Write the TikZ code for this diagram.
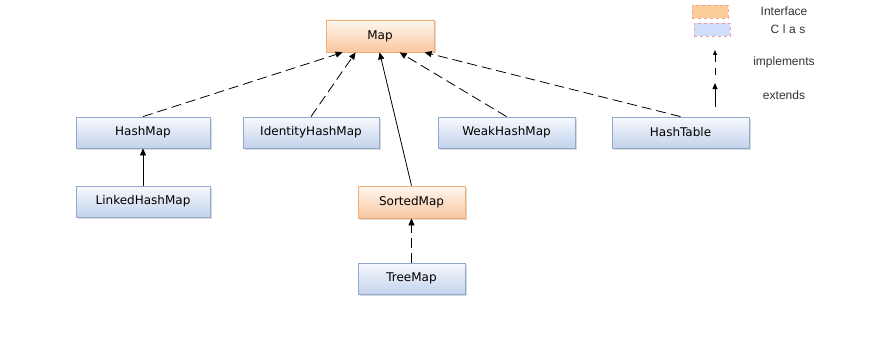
\documentclass[tikz,border=0pt]{standalone}
\usepackage{fontspec}
\setmainfont{DejaVu Sans}
\newfontfamily\legendfont{Liberation Sans}
\newfontfamily\spacedfont[LetterSpace=30]{Liberation Sans}
\usetikzlibrary{arrows.meta,shadows,calc}

\definecolor{ifaceborder}{HTML}{F5AE72}
\definecolor{ifacetop}{HTML}{FEF6EF}
\definecolor{ifacebottom}{HTML}{F9C7A0}
\definecolor{classborder}{HTML}{93A9CB}
\definecolor{classtop}{HTML}{F7F9FD}
\definecolor{classbottom}{HTML}{C3D3EC}
\definecolor{legendtext}{HTML}{333333}
\definecolor{legendiface}{HTML}{FBCC97}
\definecolor{legendclass}{HTML}{CFDEFB}
\definecolor{legendedge}{HTML}{F2A0A0}

\tikzset{
  box/.style={draw, line width=0.8pt, inner sep=0pt, minimum height=31pt,
    font=\fontsize{12}{14}\selectfont,
    drop shadow={shadow xshift=1.5pt, shadow yshift=-1.5pt, opacity=0.3, fill=gray}},
  iface/.style={box, draw=ifaceborder, top color=ifacetop, bottom color=ifacebottom},
  cls/.style={box, draw=classborder, top color=classtop, bottom color=classbottom},
  impl/.style={line width=0.8pt, dash pattern=on 10pt off 5pt,
    -{Triangle[length=7pt,width=6pt]}},
  ext/.style={line width=0.8pt, -{Triangle[length=7pt,width=6pt]}},
  legendlabel/.style={text=legendtext, font=\legendfont\fontsize{12}{14}\selectfont, inner sep=0pt},
}

\begin{document}
\begin{tikzpicture}[x=1pt, y=-1pt]
  \useasboundingbox (0,0) rectangle (872,337);

  % interfaces and classes
  \node[iface, minimum width=108pt, minimum height=32pt] (map) at (380,36) {Map};
  \node[cls, minimum width=134pt] (hashmap) at (143,132.5) {HashMap};
  \node[cls, minimum width=136pt] (identity) at (311,132.5) {IdentityHashMap};
  \node[cls, minimum width=137pt] (weak) at (506.5,132.5) {WeakHashMap};
  \node[cls, minimum width=137pt] (hashtable) at (680.5,132.5) {HashTable};
  \node[cls, minimum width=134pt] (linked) at (143,201.5) {LinkedHashMap};
  \node[iface, minimum width=107pt, minimum height=32pt] (sorted) at (411.5,202) {SortedMap};
  \node[cls, minimum width=107pt] (tree) at (411.5,278.5) {TreeMap};

  % relations
  \draw[impl] (hashmap.north) -- ([xshift=17pt]map.south west);
  \draw[impl] (identity.north) -- ([xshift=30pt]map.south west);
  \draw[ext]  (sorted.north) -- ([xshift=54pt]map.south west);
  \draw[impl] (weak.north) -- ([xshift=74pt]map.south west);
  \draw[impl] (hashtable.north) -- ([xshift=99pt]map.south west);
  \draw[ext]  (linked.north) -- (hashmap.south);
  \draw[impl] (tree.north) -- (sorted.south);

  % legend
  \node[draw=legendedge, dashed, line width=0.6pt, fill=legendiface,
        minimum width=36pt, minimum height=13pt, inner sep=0pt] (keyiface) at (710,11.5) {};
  \node[draw=legendedge, dashed, line width=0.6pt, fill=legendclass,
        minimum width=36pt, minimum height=13pt, inner sep=0pt] (keyclass) at (712,29.5) {};
  \node[legendlabel] (lbliface) at (784,11) {Interface};
  \node[legendlabel, font=\spacedfont\fontsize{12}{14}\selectfont] (lblclass) at (788,29) {Clas};
  \node[legendlabel] (lblimpl) at (784,62.5) {implements};
  \node[legendlabel] (lblext) at (784,95) {extends};

  \coordinate (implbottom) at (715,62);
  \coordinate (impltop) at (715,50);
  \coordinate (dashtop) at (715,68);
  \coordinate (dashbottom) at (715,75);
  \coordinate (extbottom) at (715,107);
  \coordinate (exttop) at (715,83);
  \draw[line width=0.8pt, -{Triangle[length=5pt,width=4pt]}] (implbottom) -- (impltop);
  \draw[line width=0.8pt] (dashtop) -- (dashbottom);
  \draw[line width=0.8pt, -{Triangle[length=6pt,width=5pt]}] (extbottom) -- (exttop);
\end{tikzpicture}
\end{document}
